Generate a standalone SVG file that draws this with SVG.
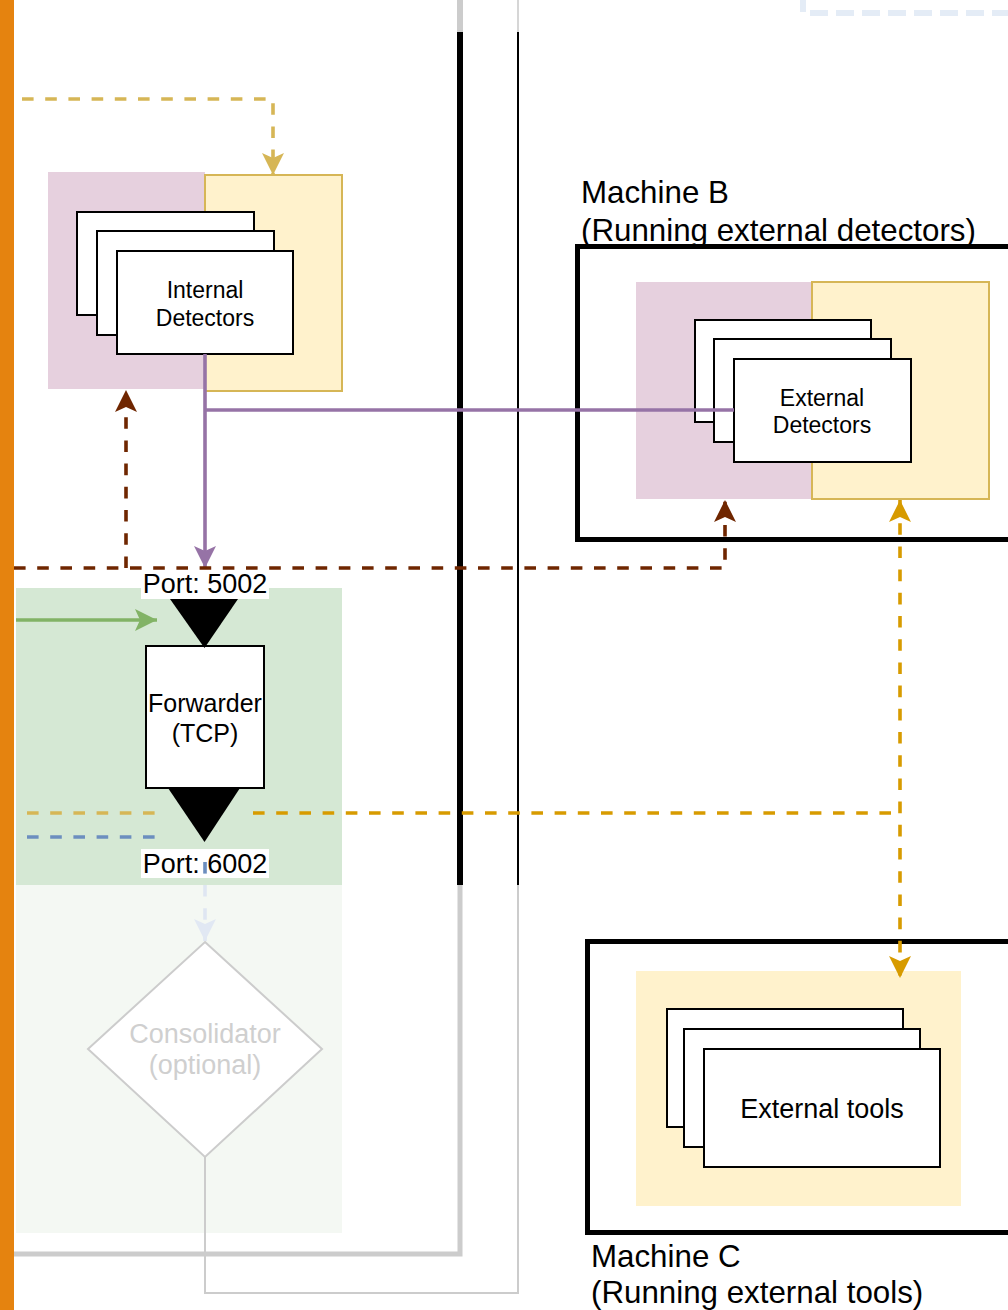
<svg xmlns="http://www.w3.org/2000/svg" width="1008" height="1310" viewBox="0 0 1008 1310">
  <style>
    text { font-family: "Liberation Sans", Arial, Helvetica, sans-serif; fill: #000; text-anchor: middle; }
    .card { fill: #fff; stroke: #000; stroke-width: 2; }
    .pink { fill: #e6d0de; }
    .yel { fill: #fff2cc; stroke: #d6b656; stroke-width: 2; }
    .machine { fill: none; stroke: #000; stroke-width: 5; }
    .edge { fill: none; stroke-width: 3.6; }
    .dash { stroke-dasharray: 11.6 11.6; }
    .lbl { font-size: 27px; }
    .det { font-size: 23px; }
    .mach { font-size: 31.3px; text-anchor: start; }
  </style>
  <defs>
    <marker id="ah-purple" markerUnits="userSpaceOnUse" viewBox="0 0 22 22" markerWidth="22" markerHeight="22" refX="22" refY="11" orient="auto">
      <path d="M0,0 L22,11 L0,22 L5,11 Z" fill="#9673a6"/>
    </marker>
    <marker id="ah-brown" markerUnits="userSpaceOnUse" viewBox="0 0 22 22" markerWidth="22" markerHeight="22" refX="22" refY="11" orient="auto">
      <path d="M0,0 L22,11 L0,22 L5,11 Z" fill="#6f2600"/>
    </marker>
    <marker id="ah-gold" markerUnits="userSpaceOnUse" viewBox="0 0 22 22" markerWidth="22" markerHeight="22" refX="22" refY="11" orient="auto">
      <path d="M0,0 L22,11 L0,22 L5,11 Z" fill="#d6b656"/>
    </marker>
    <marker id="ah-orange" markerUnits="userSpaceOnUse" viewBox="0 0 22 22" markerWidth="22" markerHeight="22" refX="22" refY="11" orient="auto-start-reverse">
      <path d="M0,0 L22,11 L0,22 L5,11 Z" fill="#d79b00"/>
    </marker>
    <marker id="ah-green" markerUnits="userSpaceOnUse" viewBox="0 0 22 22" markerWidth="22" markerHeight="22" refX="22" refY="11" orient="auto">
      <path d="M0,0 L22,11 L0,22 L5,11 Z" fill="#82b366"/>
    </marker>
    <marker id="ah-pale" markerUnits="userSpaceOnUse" viewBox="0 0 22 22" markerWidth="22" markerHeight="22" refX="22" refY="11" orient="auto">
      <path d="M0,0 L22,11 L0,22 L5,11 Z" fill="#e1e8f3"/>
    </marker>
  </defs>

  <!-- left edge band -->
  <rect id="sidebar" x="0" y="0" width="14" height="1310" fill="#e5830f"/>

  <!-- forwarding zone backgrounds -->
  <g id="zone-forward">
    <rect x="16" y="588" width="326" height="297" fill="#d5e8d4"/>
    <rect x="16" y="885" width="326" height="348" fill="#f4f8f3"/>
  </g>

  <!-- network separators -->
  <g id="separators" fill="none">
    <path d="M460,0 V32" stroke="#cccccc" stroke-width="6"/>
    <path d="M460,32 V885" stroke="#000" stroke-width="6"/>
    <path d="M460,885 V1254 H14" stroke="#cccccc" stroke-width="5"/>
    <path d="M518,0 V32" stroke="#d6d6d6" stroke-width="2"/>
    <path d="M518,32 V885" stroke="#000" stroke-width="2"/>
    <path d="M205,1157 V1293 H518 V885" stroke="#cccccc" stroke-width="2"/>
    <path d="M803,-6 V13 H1010" stroke="#e4ecf6" stroke-width="6" stroke-dasharray="18 8"/>
  </g>

  <!-- internal detectors -->
  <g id="internal-detectors">
    <rect class="pink" x="48" y="172" width="157" height="217"/>
    <rect class="yel" x="205" y="175" width="137" height="216"/>
    <rect class="card" x="77" y="212" width="177" height="103"/>
    <rect class="card" x="97" y="231" width="177" height="104"/>
    <rect class="card" x="117" y="251" width="176" height="103"/>
    <text class="det" x="205" y="298">Internal</text>
    <text class="det" x="205" y="326">Detectors</text>
  </g>

  <!-- machine B -->
  <g id="machine-b">
    <rect class="machine" x="577.5" y="246.5" width="440" height="293"/>
    <text class="mach" x="581" y="203">Machine B</text>
    <text class="mach" x="581" y="241">(Running external detectors)</text>
  </g>
  <g id="external-detectors">
    <rect class="pink" x="636" y="282" width="176" height="217"/>
    <rect class="yel" x="812" y="282" width="177" height="217"/>
    <rect class="card" x="695" y="320" width="176" height="102"/>
    <rect class="card" x="714" y="339" width="177" height="103"/>
    <rect class="card" x="734" y="359" width="177" height="103"/>
    <text class="det" x="822" y="406">External</text>
    <text class="det" x="822" y="433">Detectors</text>
  </g>

  <!-- machine C -->
  <g id="machine-c">
    <rect class="machine" x="587.5" y="941.5" width="440" height="291"/>
    <text class="mach" x="591" y="1267">Machine C</text>
    <text class="mach" x="591" y="1303">(Running external tools)</text>
  </g>
  <g id="external-tools">
    <rect x="636" y="971" width="325" height="235" fill="#fff2cc"/>
    <rect class="card" x="667" y="1009" width="236" height="118"/>
    <rect class="card" x="684" y="1029" width="236" height="118"/>
    <rect class="card" x="704" y="1049" width="236" height="118"/>
    <text class="lbl" x="822" y="1118">External tools</text>
  </g>

  <!-- forwarder -->
  <g id="forwarder">
    <rect class="card" x="146" y="646" width="118" height="142"/>
    <polygon points="170,599 238,599 204.5,648" fill="#000"/>
    <polygon points="168,788 240,788 204.5,842" fill="#000"/>
    <text x="205" y="712" style="font-size:25px">Forwarder</text>
    <text x="205" y="742" style="font-size:25px">(TCP)</text>
  </g>

  <g id="port-5002">
    <rect x="141" y="572" width="128" height="27" fill="#fff"/>
    <text class="lbl" x="205" y="593">Port: 5002</text>
  </g>
  <g id="port-6002">
    <rect x="141" y="849" width="128" height="29" fill="#fff"/>
    <text class="lbl" x="205" y="873">Port: 6002</text>
  </g>

  <!-- consolidator (optional, shown faded) -->
  <g id="consolidator">
    <polygon points="205,942 322,1049 205,1157 88,1049" fill="#fff" stroke="#cccccc" stroke-width="2"/>
    <text class="lbl" x="205" y="1043" style="fill:#cfcfcf">Consolidator</text>
    <text class="lbl" x="205" y="1074" style="fill:#cfcfcf">(optional)</text>
  </g>

  <!-- connectors -->
  <g id="connectors">
    <path class="edge dash" d="M22,99 H273 V175" stroke="#d6b656" marker-end="url(#ah-gold)"/>
    <path class="edge" d="M205,354 V568" stroke="#9673a6" marker-end="url(#ah-purple)"/>
    <path class="edge" d="M734,410 H205" stroke="#9673a6"/>
    <path class="edge dash" d="M14,568 H725 V500" stroke="#6f2600" marker-end="url(#ah-brown)"/>
    <path class="edge dash" d="M126,568 V390" stroke="#6f2600" marker-end="url(#ah-brown)"/>
    <path class="edge" d="M16,620 H157" stroke="#82b366" marker-end="url(#ah-green)"/>
    <path class="edge dash" d="M27,813 H157" stroke="#d6b656"/>
    <path class="edge dash" d="M27,837 H157" stroke="#6c8ebf"/>
    <path class="edge dash" d="M253,813 H900" stroke="#d79b00"/>
    <path class="edge dash" d="M900,500 V978" stroke="#d79b00" marker-start="url(#ah-orange)" marker-end="url(#ah-orange)"/>
    <path class="edge" d="M205,862 V873.6" stroke="#6c8ebf"/>
    <path class="edge dash" d="M205,885 V941" stroke="#dfe6f2" marker-end="url(#ah-pale)"/>
  </g>
</svg>
